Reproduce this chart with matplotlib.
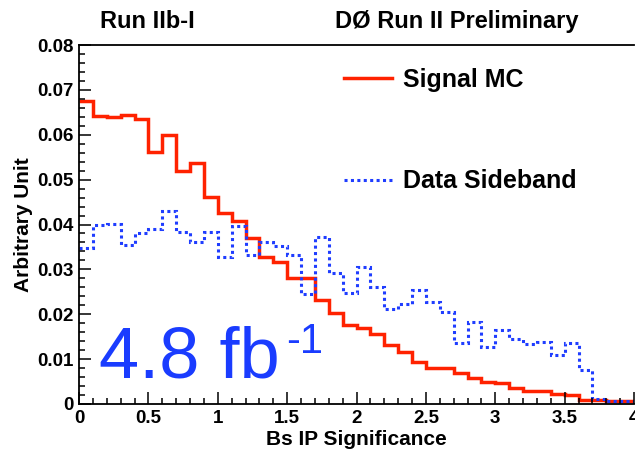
import numpy as np
import matplotlib
matplotlib.use("Agg")
import matplotlib.pyplot as plt
from matplotlib.ticker import MultipleLocator

# ---- data ----
bin_edges = np.round(np.arange(41) * 0.1, 2)
signal_mc = [0.0676, 0.0642, 0.0640, 0.0645, 0.0634, 0.0562, 0.0599, 0.0520, 0.0538, 0.0461,
             0.0426, 0.0408, 0.0371, 0.0327, 0.0316, 0.0280, 0.0280, 0.0232, 0.0202, 0.0176,
             0.0169, 0.0156, 0.0131, 0.0115, 0.0094, 0.0080, 0.0080, 0.0070, 0.0057, 0.0050,
             0.0046, 0.0035, 0.0029, 0.0029, 0.0022, 0.0020, 0.0010, 0.0008, 0.0007, 0.0006]
data_sideband = [0.0348, 0.0399, 0.0401, 0.0354, 0.0380, 0.0389, 0.0431, 0.0383, 0.0360, 0.0383,
                 0.0328, 0.0397, 0.0332, 0.0362, 0.0352, 0.0332, 0.0245, 0.0373, 0.0291, 0.0248,
                 0.0306, 0.0261, 0.0211, 0.0223, 0.0253, 0.0228, 0.0206, 0.0135, 0.0183, 0.0126,
                 0.0165, 0.0144, 0.0133, 0.0139, 0.0109, 0.0135, 0.0076, 0.0011, 0.0007, 0.0006]
x_ticks = [0, 0.5, 1, 1.5, 2, 2.5, 3, 3.5, 4]
x_tick_labels = ["0", "0.5", "1", "1.5", "2", "2.5", "3", "3.5", "4"]
y_ticks = [0, 0.01, 0.02, 0.03, 0.04, 0.05, 0.06, 0.07, 0.08]
y_tick_labels = ["0", "0.01", "0.02", "0.03", "0.04", "0.05", "0.06", "0.07", "0.08"]
series_labels = ["Signal MC", "Data Sideband"]

FONT = ["Liberation Sans", "DejaVu Sans"]
plt.rcParams["font.family"] = FONT

W, H = 635, 450
fig = plt.figure(figsize=(W / 100, H / 100), dpi=100)
x0, x1, ytop, ybot = 79, 634, 45, 404
ax = fig.add_axes([x0 / W, 1 - ybot / H, (x1 - x0) / W, (ybot - ytop) / H])

red = "#ff2200"
blue = "#1f3dff"
h1 = ax.stairs(signal_mc, bin_edges, baseline=None, color=red, lw=2.5, label=series_labels[0])
h2 = ax.stairs(data_sideband, bin_edges, baseline=None, color=blue, lw=2.2,
               linestyle=(0, (1.0, 1.1)), label=series_labels[1])

ax.set_xlim(0, 4)
ax.set_ylim(0, 0.08)
ax.set_xticks(x_ticks, x_tick_labels)
ax.set_yticks(y_ticks, y_tick_labels)
ax.xaxis.set_minor_locator(MultipleLocator(0.1))
ax.yaxis.set_minor_locator(MultipleLocator(0.002))
ax.tick_params(which="both", direction="in", top=False, right=False, width=1.1, color="black")
ax.tick_params(which="major", length=8.5, labelsize=13.5, pad=4)
ax.tick_params(which="minor", length=4.3)
for lab in ax.get_xticklabels() + ax.get_yticklabels():
    lab.set_fontweight("bold")
ax.spines["right"].set_visible(False)
for s in ["left", "bottom", "top"]:
    ax.spines[s].set_linewidth(1.3)

ax.set_xlabel("Bs IP Significance", fontsize=15, fontweight="bold")
ax.xaxis.set_label_coords(0.5, -0.072)
ax.set_ylabel("Arbitrary Unit", fontsize=15, fontweight="bold")
ax.yaxis.set_label_coords(-0.083, 0.5)

leg = ax.legend(handles=[h1, h2], loc="upper left", bbox_to_anchor=((344 - x0) / (x1 - x0), (ybot - 68) / (ybot - ytop)),
                frameon=False, prop={"weight": "bold", "size": 18, "family": FONT},
                handlelength=1.9, handletextpad=0.45, labelspacing=3.1,
                borderpad=0, borderaxespad=0)

fig.text(100 / W, 1 - 28 / H, "Run IIb-I", fontsize=17, fontweight="bold", ha="left", va="baseline")
fig.text(335 / W, 1 - 28 / H, "D\u00d8 Run II Preliminary", fontsize=17, fontweight="bold", ha="left", va="baseline")

fig.text(99 / W, 1 - 378 / H, "4.8 fb", fontsize=52, color="#1a3cff", ha="left", va="baseline")
fig.text(286 / W, 1 - 353 / H, "-1", fontsize=30, color="#1a3cff", ha="left", va="baseline")

fig.savefig("out.png", dpi=100)
